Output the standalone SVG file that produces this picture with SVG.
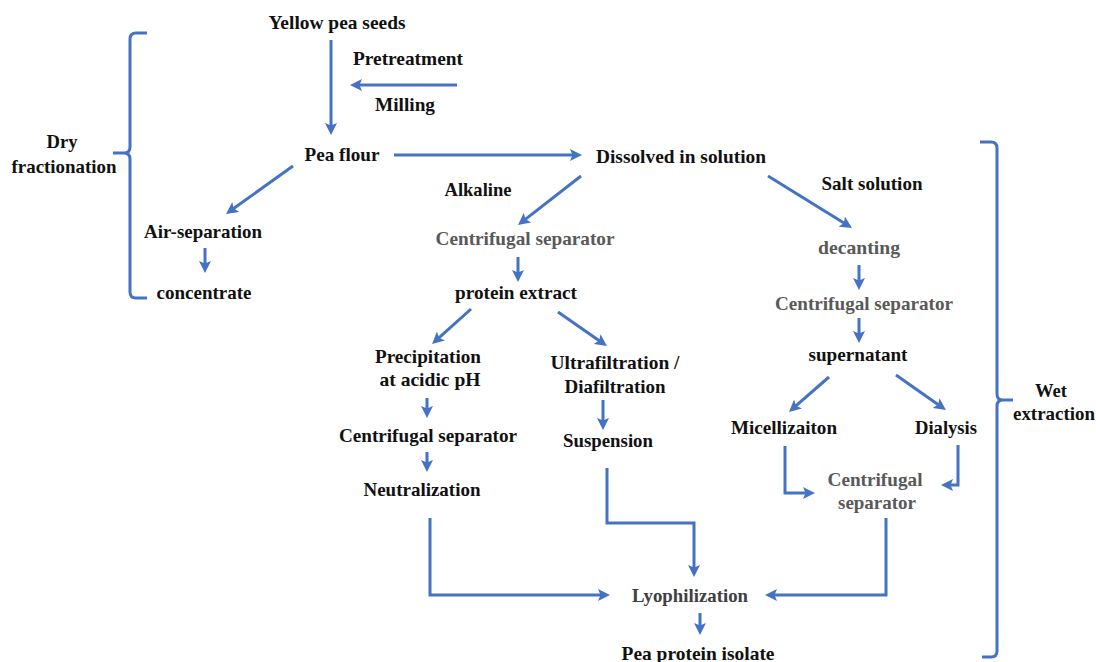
<svg xmlns="http://www.w3.org/2000/svg" width="1096" height="662" viewBox="0 0 1096 662">
<style>
text{font-family:'Liberation Serif','DejaVu Serif Condensed','DejaVu Serif',serif;font-weight:700;font-size:19px;fill:#111;text-anchor:middle}
.g{fill:#595959}
.d{fill:#404040}
.c{fill:none;stroke:#4472C4;stroke-width:3;marker-end:url(#ah)}
.b{fill:none;stroke:#4472C4;stroke-width:3}
</style>
<defs>
<marker id="ah" markerWidth="13" markerHeight="12" refX="4" refY="6" orient="auto" markerUnits="userSpaceOnUse">
<path d="M0,0 L12,6 L0,12 L2.5,6 z" fill="#4472C4"/>
</marker>
</defs>
<rect width="1096" height="662" fill="#fff"/>
<g id="braces">
<path class="b" d="M147,33 H136 Q130,33 130,39 V147 Q130,153 124,153 H113 M124,153 Q130,153 130,159 V292 Q130,298 136,298 H147"/>
<path class="b" d="M980,142 H991 Q997,142 997,148 V394 Q997,400 1003,400 H1013 M1003,400 Q997,400 997,406 V651 Q997,657 991,657 H982"/>
</g>
<g id="n-dry"><text x="62" y="148" textLength="31" lengthAdjust="spacingAndGlyphs">Dry</text><text x="64" y="173" textLength="105" lengthAdjust="spacingAndGlyphs">fractionation</text></g>
<g id="n-wet"><text x="1051" y="397" textLength="32" lengthAdjust="spacingAndGlyphs">Wet</text><text x="1054" y="420" textLength="82" lengthAdjust="spacingAndGlyphs">extraction</text></g>
<g id="n-yellow"><text x="337" y="29" textLength="137" lengthAdjust="spacingAndGlyphs">Yellow pea seeds</text></g>
<g id="n-pretreat"><text x="408" y="65" textLength="110" lengthAdjust="spacingAndGlyphs">Pretreatment</text></g>
<g id="n-milling"><text x="405" y="111" textLength="60" lengthAdjust="spacingAndGlyphs">Milling</text></g>
<g id="n-flour"><text x="342" y="161" textLength="75" lengthAdjust="spacingAndGlyphs">Pea flour</text></g>
<g id="n-dissolved"><text x="681" y="163" textLength="170" lengthAdjust="spacingAndGlyphs">Dissolved in solution</text></g>
<g id="n-air"><text x="203" y="238" textLength="118" lengthAdjust="spacingAndGlyphs">Air-separation</text></g>
<g id="n-conc"><text x="204" y="299" textLength="95" lengthAdjust="spacingAndGlyphs">concentrate</text></g>
<g id="n-alkaline"><text x="478" y="196" textLength="67" lengthAdjust="spacingAndGlyphs">Alkaline</text></g>
<g id="n-salt"><text x="872" y="190" textLength="101" lengthAdjust="spacingAndGlyphs">Salt solution</text></g>
<g id="n-cs1"><text class="g" x="525" y="245" textLength="179" lengthAdjust="spacingAndGlyphs">Centrifugal separator</text></g>
<g id="n-extract"><text x="516" y="299" textLength="122" lengthAdjust="spacingAndGlyphs">protein extract</text></g>
<g id="n-decant"><text class="g" x="859" y="254" textLength="82" lengthAdjust="spacingAndGlyphs">decanting</text></g>
<g id="n-cs2"><text class="g" x="864" y="310" textLength="178" lengthAdjust="spacingAndGlyphs">Centrifugal separator</text></g>
<g id="n-super"><text x="858" y="361" textLength="99" lengthAdjust="spacingAndGlyphs">supernatant</text></g>
<g id="n-precip"><text x="428" y="363" textLength="106" lengthAdjust="spacingAndGlyphs">Precipitation</text><text x="430" y="386" textLength="101" lengthAdjust="spacingAndGlyphs">at acidic pH</text></g>
<g id="n-ultra"><text x="615" y="369" textLength="129" lengthAdjust="spacingAndGlyphs">Ultrafiltration /</text><text x="615" y="393" textLength="101" lengthAdjust="spacingAndGlyphs">Diafiltration</text></g>
<g id="n-cs3"><text x="428" y="442" textLength="178" lengthAdjust="spacingAndGlyphs">Centrifugal separator</text></g>
<g id="n-susp"><text x="608" y="447" textLength="90" lengthAdjust="spacingAndGlyphs">Suspension</text></g>
<g id="n-neutral"><text x="422" y="496" textLength="117" lengthAdjust="spacingAndGlyphs">Neutralization</text></g>
<g id="n-micel"><text x="784" y="434" textLength="106" lengthAdjust="spacingAndGlyphs">Micellizaiton</text></g>
<g id="n-dialysis"><text x="946" y="434" textLength="62" lengthAdjust="spacingAndGlyphs">Dialysis</text></g>
<g id="n-cs4"><text class="g" x="875" y="486" textLength="95" lengthAdjust="spacingAndGlyphs">Centrifugal</text><text class="g" x="877" y="509" textLength="78" lengthAdjust="spacingAndGlyphs">separator</text></g>
<g id="n-lyo"><text class="d" x="690" y="602" textLength="116" lengthAdjust="spacingAndGlyphs">Lyophilization</text></g>
<g id="n-isolate"><text x="698" y="660" textLength="153" lengthAdjust="spacingAndGlyphs">Pea protein isolate</text></g>
<g id="connectors">
<path class="c" d="M331,40 V127"/>
<path class="c" d="M457,85 H358"/>
<path class="c" d="M394,155 H574"/>
<path class="c" d="M293,166 L232.5,209.3"/>
<path class="c" d="M205,248 V265"/>
<path class="c" d="M581,176 L524.3,220.1"/>
<path class="c" d="M768,176 L845.2,223.8"/>
<path class="c" d="M518,257 V274"/>
<path class="c" d="M859,265 V282"/>
<path class="c" d="M859,318 V335"/>
<path class="c" d="M471,309 L438,338.7"/>
<path class="c" d="M558,312 L600.4,341.4"/>
<path class="c" d="M427,398 V410"/>
<path class="c" d="M427,452 V464"/>
<path class="c" d="M603,400 V422"/>
<path class="c" d="M829,377 L795,406.7"/>
<path class="c" d="M896,375 L939.4,405.4"/>
<path class="c" d="M785,446 V493 H807"/>
<path class="c" d="M958,445 V485 H949"/>
<path class="c" d="M430,518 V595 H602"/>
<path class="c" d="M607,468 V523 H694 V569"/>
<path class="c" d="M886,518 V595 H773"/>
<path class="c" d="M700,613 V627"/>
</g>
</svg>
